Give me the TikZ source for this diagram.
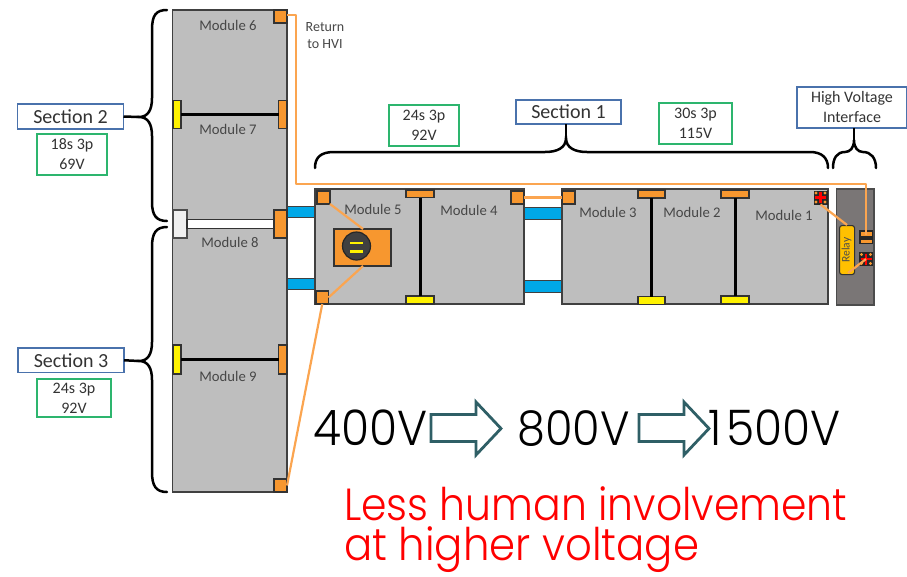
\documentclass[tikz,border=0pt]{standalone}
\usepackage{fontspec}
\setmainfont{Carlito}
\newfontfamily\geo[FakeStretch=0.93]{Poppins Light}
\newfontfamily\geored[FakeStretch=0.91]{Poppins Light}
\tikzset{
  boxb/.style={anchor=north west,inner sep=0pt,outer sep=0pt,draw=#1},
  modblock/.style={boxb=black!75,fill=modgray,line width=1.3pt},
  term/.style={boxb=black!80,fill=termor,line width=1.3pt},
  termy/.style={boxb=black!80,fill=yellow,line width=1.3pt},
  termw/.style={boxb=black!70,fill=black!6,line width=1.3pt},
  bus/.style={boxb=black!75,fill=busblue,line width=1pt},
  secbox/.style={boxb=secblue,fill=white,line width=1.3pt,align=center,text=black!80},
  volbox/.style={boxb=volgreen,fill=white,line width=1.3pt,align=center,text=black!80,font=\fontsize{16}{20}\selectfont},
  modlabel/.style={text=black!72,font=\fontsize{14.7}{15}\selectfont,inner sep=0pt},
  oline/.style={draw=wire,line width=2.2pt,line join=round},
  tie/.style={draw=black,line width=3pt},
  brace/.style={draw=black,line width=2.5pt,line cap=round},
  bigarrow/.style={draw=arrowteal,line width=2.8pt,fill=white,line join=miter},
}
\definecolor{modgray}{HTML}{BEBEBE}
\definecolor{termor}{HTML}{F7972F}
\definecolor{wire}{HTML}{FBA550}
\definecolor{busblue}{HTML}{00A8E8}
\definecolor{secblue}{HTML}{4A72AC}
\definecolor{volgreen}{HTML}{2DB56E}
\definecolor{arrowteal}{HTML}{2F5F66}
\definecolor{hvgray}{HTML}{7A7676}
\definecolor{relayc}{HTML}{FFC000}
\definecolor{chargec}{HTML}{404040}
\newcommand{\bx}[6]{\node[#6,minimum width=#4pt,minimum height=#5pt] (#1) at (#2,#3) {};}
\newcommand{\plusterm}[3]{%
  \node[anchor=north west,inner sep=0pt,outer sep=0pt,fill=black!85,minimum width=14pt,minimum height=14pt] (#1) at (#2,#3) {};
  \foreach \dx/\dy in {2.5/2.5,11.5/2.5,2.5/11.5,11.5/11.5}
    \fill[termor] ($(#2,#3)+(\dx,\dy)$) circle[radius=1.6];
  \draw[red,line width=2.6pt] ($(#1.center)+(-5.5,0)$) -- ($(#1.center)+(5.5,0)$);
  \draw[red,line width=2.6pt] ($(#1.center)+(0,-5.5)$) -- ($(#1.center)+(0,5.5)$);
}
\usetikzlibrary{calc}
\begin{document}
\begin{tikzpicture}[x=1pt,y=-1pt]
\useasboundingbox (0,0) rectangle (907,576);
% buses behind
\bx{busa}{286}{206.5}{30}{11}{bus}
\bx{busb}{286}{278}{30}{11}{bus}
\bx{busc}{523}{207}{39}{12}{bus}
\bx{busd}{523}{280}{39}{12}{bus}
% module blocks
\bx{left}{172.5}{10}{114.5}{482}{modblock}
\bx{mid}{315}{189}{209}{115}{modblock}
\bx{right}{562}{189}{266}{115}{modblock}
\bx{hvi}{836.5}{189}{37.5}{116}{boxb=black!70,fill=hvgray,line width=1.3pt}
% ties
\bx{ty1}{173}{100.5}{8}{28}{termy}
\bx{to1}{278.5}{100.5}{8.5}{28}{term}
\draw[tie] (ty1.east) -- (to1.west);
\bx{tw}{173}{210}{14}{28}{termw}
\bx{to2}{274}{210}{13}{28}{term}
\node[boxb=black!80,fill=white,line width=1.5pt,minimum width=87pt,minimum height=9pt] (wbar) at (187,219.5) {};
\bx{ty3}{173}{345}{8}{29}{termy}
\bx{to3}{278.5}{345}{8.5}{29}{term}
\draw[tie] (ty3.east) -- (to3.west);
\bx{t6}{274}{10}{13}{13}{term}
\bx{t9}{274}{479}{13}{13}{term}
% module 5/4
\bx{t5a}{317}{191}{13}{13}{term}
\bx{t5b}{316}{291}{12.5}{13}{term}
\bx{t4t}{406}{190}{28}{7.5}{term}
\bx{t4b}{406}{296}{28}{8}{termy}
\draw[tie] (t4t.south) -- (t4b.north);
\bx{t4r}{511}{191}{13}{13}{term}
% module 3/2/1
\bx{t3l}{562}{191}{13}{13}{term}
\bx{t3t}{638}{190}{27}{8}{term}
\bx{t3b}{638}{296.5}{27}{8}{termy}
\draw[tie] (t3t.south) -- (t3b.north);
\bx{t2t}{721}{190}{28}{8}{term}
\bx{t2b}{721}{296}{28}{8}{termy}
\draw[tie] (t2t.south) -- (t2b.north);
\plusterm{p1}{813.5}{190.5}
% disconnect
\bx{disc}{334}{229}{57}{37}{boxb=black!80,fill=termor,line width=1.3pt}
\node[circle,draw=black!85,fill=chargec,line width=1.2pt,minimum size=28pt,inner sep=0pt] (knob) at (356.5,246) {};
\fill[yellow] ($(knob.center)+(-6.5,-4.5)$) rectangle ($(knob.center)+(6.5,-2)$);
\fill[yellow] ($(knob.center)+(-6.5,4)$) rectangle ($(knob.center)+(6.5,6.5)$);
% relay
\node[anchor=north west,draw=black!80,fill=relayc,rounded corners=2.5pt,line width=1.1pt,minimum width=15pt,minimum height=49pt,inner sep=0pt] (relay) at (839,225) {};
\node[rotate=90,text=black!70,font=\fontsize{11.5}{12}\selectfont,inner sep=0pt] (relaylab) at (846.5,250) {Relay};
\plusterm{p2}{859}{252}
\node[anchor=north west,inner sep=0pt,outer sep=0pt,fill=black!85,minimum width=14pt,minimum height=14pt] (neg) at (859,230) {};
\fill[termor] (861,232) rectangle (871.5,236);
\fill[termor] (861,239.5) rectangle (871.5,243);
% wires
\coordinate (w1) at (296,15);
\coordinate (w2) at (296,184);
\coordinate (w3) at (866,184);
\draw[oline] (t6.east|-w1) -- (w1) -- (w2) -- (w3) -- (neg.north-|w3) -- ($(neg.north-|w3)+(0,5)$);
\draw[oline] (t4r.east|-0,197.5) -- (t3l.west|-0,197.5);
\draw[oline] (t5a.south east) -- (363,229);
\draw[oline] (363,266) -- (t5b.east);
\draw[oline] (t5b.south) -- (t9.east);
\draw[oline] (p1.south) -- (relay.north);
\draw[oline] (p2.center) -- (848,273);
% braces
\draw[brace] (167,10) .. controls (156,10) and (152,15) .. (152,30) -- (152,98) .. controls (152,110) and (148,117) .. (139,117) .. controls (148,117) and (152,124) .. (152,136) -- (152,202) .. controls (152,215) and (156,221) .. (167,221);
\coordinate (s2j) at (139,117);
\draw[brace] (167,227) .. controls (156,227) and (152,233) .. (152,247) -- (152,342) .. controls (152,354) and (148,361) .. (139,361) .. controls (148,361) and (152,368) .. (152,380) -- (152,472) .. controls (152,486) and (156,492) .. (167,492);
\coordinate (s3j) at (139,361);
\draw[brace] (315,168) .. controls (315,158) and (320,152) .. (334,152) -- (545,152) .. controls (557,152) and (566,148) .. (566,138) .. controls (566,148) and (575,152) .. (587,152) -- (810,152) .. controls (822,152) and (828,158) .. (828,168);
\coordinate (s1j) at (566,138);
\draw[brace] (833,168) .. controls (833,158) and (837,152) .. (845,152) .. controls (850,152) and (854,148) .. (854,140) .. controls (854,148) and (858,152) .. (863,152) .. controls (871,152) and (876,158) .. (876,168);
\coordinate (hvj) at (854,140);
% section labels
\node[secbox,font=\fontsize{20}{22}\selectfont,minimum width=106pt,minimum height=25pt] (sec2) at (17.5,104) {Section 2};
\node[secbox,font=\fontsize{20}{22}\selectfont,minimum width=106pt,minimum height=24.5pt] (sec3) at (18,348) {Section 3};
\node[secbox,font=\fontsize{20}{22}\selectfont,minimum width=105pt,minimum height=24pt] (sec1) at (516,100) {Section 1};
\node[secbox,font=\fontsize{16}{20}\selectfont,minimum width=110pt,minimum height=41pt] (hv) at (797,87) {High Voltage\\Interface};
\draw[brace,line cap=butt] (sec2.east) -- (s2j);
\draw[brace,line cap=butt] (sec3.east) -- (s3j);
\draw[brace,line cap=butt] (sec1.south-|s1j) -- (s1j);
\draw[brace,line cap=butt] (hv.south-|hvj) -- (hvj);
\node[volbox,minimum width=70pt,minimum height=41pt] (v2) at (37,134) {18s 3p\\69V};
\node[volbox,minimum width=74pt,minimum height=38pt] (v3) at (37,379) {24s 3p\\92V};
\node[volbox,minimum width=70pt,minimum height=41pt] (v1a) at (389,105) {24s 3p\\92V};
\node[volbox,minimum width=73pt,minimum height=41pt] (v1b) at (659,103) {30s 3p\\115V};
% module labels
\node[modlabel] (m6) at (228,25.5) {Module 6};
\node[modlabel] (m7) at (228,129) {Module 7};
\node[modlabel] (m8) at (230,242) {Module 8};
\node[modlabel] (m9) at (228,376) {Module 9};
\node[modlabel] (m5) at (373,209) {Module 5};
\node[modlabel] (m4) at (469,210) {Module 4};
\node[modlabel] (m3) at (608,212.5) {Module 3};
\node[modlabel] (m2) at (692,212.5) {Module 2};
\node[modlabel] (m1) at (784,215) {Module 1};
\node[text=black!72,font=\fontsize{14}{17}\selectfont,align=center,inner sep=0pt] (ret) at (325,36) {Return\\to HVI};
% voltage row
\node[anchor=base west,inner sep=0pt,font=\geo\fontsize{49}{50}\selectfont] (v400) at (313,445) {400V};
\node[anchor=base west,inner sep=0pt,font=\geo\fontsize{48}{50}\selectfont] (v800) at (517,445) {800V};
\node[anchor=base east,inner sep=0pt,font=\geo\fontsize{49}{50}\selectfont] (v1500) at (841,445) {1\kern5pt 500V};
\draw[bigarrow] (431,414.5) -- (476,414.5) -- (476,402) -- (501,428.5) -- (476,455) -- (476,441.5) -- (431,441.5) -- cycle;
\draw[bigarrow] (639,414.5) -- (684,414.5) -- (684,402) -- (709,428.5) -- (684,455) -- (684,441.5) -- (639,441.5) -- cycle;
\node[anchor=base west,inner sep=0pt,text=red,font=\geored\fontsize{45}{50}\selectfont] (less) at (344,520) {Less human involvement};
\node[anchor=base west,inner sep=0pt,text=red,font=\geo\fontsize{45}{50}\selectfont] (at) at (344,560) {at higher voltage};
\end{tikzpicture}
\end{document}
